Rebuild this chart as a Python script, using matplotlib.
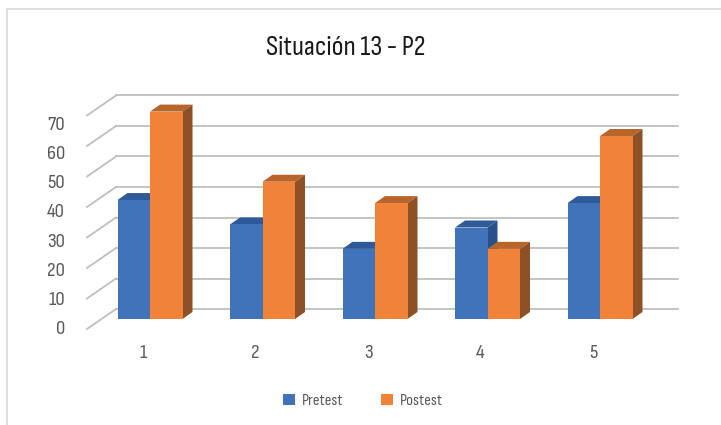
import numpy as np
import matplotlib.pyplot as plt
from matplotlib.patches import Polygon, Rectangle, Patch

categories = ["1", "2", "3", "4", "5"]
pretest = [39, 31, 23, 30, 38]
postest = [68, 45, 38, 23, 60]
ticks = [0, 10, 20, 30, 40, 50, 60, 70]
series_names = ["Pretest", "Postest"]

FONT = ["Sofia Sans Condensed", "DejaVu Sans"]
plt.rcParams['font.family'] = FONT

W, H = 721, 425
fig = plt.figure(figsize=(W / 100, H / 100), dpi=100)
ax = fig.add_axes([0, 0, 1, 1])
ax.axis('off')

# pixel layout of the fake 3d chart -> data units
x0px, xstep = 150, 112.5   # centre of category 1, spacing between categories
y0px, ystep = 319, 3.05    # floor of the bars, pixels per value unit
ax.set_xlim(1 - x0px / xstep, 1 + (W - x0px) / xstep)
ax.set_ylim(-(H - y0px) / ystep, y0px / ystep)


def cx(px):
    return 1 + (px - x0px) / xstep


def vy(px):
    return (y0px - px) / ystep


grid_col = '#BFBFBF'
off = 10 / ystep
for t in ticks:
    # back wall line and the diagonal of the side wall
    ax.plot([cx(116), cx(678)], [t + off, t + off], color=grid_col, lw=1.3, zorder=1)
    ax.plot([cx(87), cx(116)], [t - off, t + off], color=grid_col, lw=1.3, zorder=1)
    ax.text(cx(65), -off + 0.955 * t, str(t), ha='right', va='center',
            fontsize=15, color='#595959')

x = np.arange(1, len(categories) + 1)
w = 32.5 / xstep
dx = 10 / xstep
dy = 7 / ystep

styles = [
    (pretest, -w, '#4173BA', '#2F5A99', '#285089', 3),
    (postest, 0.0, '#F0823A', '#B8652C', '#8E5125', 5),
]
for vals, shift, front, top, side, z in styles:
    lefts = x + shift
    ax.bar(lefts, vals, width=w, align='edge', color=front, zorder=z)
    for l, v in zip(lefts, vals):
        ax.add_patch(Polygon([(l, v), (l + w, v), (l + w + dx, v + dy), (l + dx, v + dy)],
                             closed=True, facecolor=top, edgecolor='none', zorder=z - 1))
        ax.add_patch(Polygon([(l + w, 0), (l + w + dx, dy), (l + w + dx, v + dy), (l + w, v)],
                             closed=True, facecolor=side, edgecolor='none', zorder=z - 1))

for xi, c in zip(x, categories):
    ax.text(xi - 7 / xstep, vy(353), c, ha='center', va='center',
            fontsize=15, color='#595959')

# chart border
fig.patches.append(Rectangle((7 / W, -0.05), 1.1, 1.05 - 9 / H, transform=fig.transFigure,
                             facecolor='none', edgecolor='#D9D9D9', lw=1.2))

fig.text(346 / W, 1 - 48 / H, "Situación 13 - P2", ha='center', va='center',
         fontsize=20.5, color='#1A1A1A')

handles = [Patch(facecolor='#4173BA'), Patch(facecolor='#F0823A')]
fig.legend(handles, series_names, loc='center', bbox_to_anchor=(363 / W, 1 - 401 / H),
           ncol=2, frameon=False, handlelength=0.7, handleheight=0.7,
           handletextpad=0.4, columnspacing=2.3, fontsize=12, labelcolor='#595959')

fig.savefig("out.png", dpi=100)
